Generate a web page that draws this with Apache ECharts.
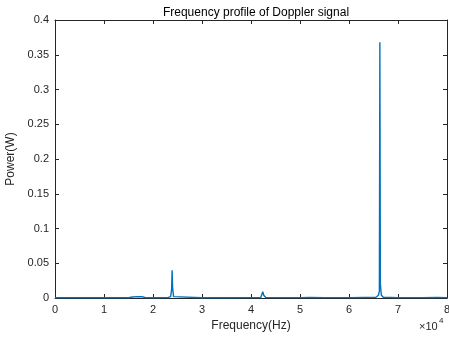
<!DOCTYPE html>
<html><head><meta charset="utf-8">
<script src="https://cdn.jsdelivr.net/npm/echarts@6/dist/echarts.min.js"></script>
<style>html,body{margin:0;padding:0;background:#fff}#c{width:449px;height:338px}</style>
</head><body><div id="c"></div>
<script>
var freqHz = [0,5000,10000,15000,15800,16200,16800,17200,17800,18500,20000,23000,23600,23800,23900,24000,24200,24600,30000,35000,40000,42000,42400,42600,43000,47800,48000,48200,50000,52000,55000,60300,60500,60700,65500,66000,66200,66300,66400,66600,67000,70000,75000,78000,80000];
var powerW = [0.0003,0.0003,0.0003,0.0004,0.0015,0.0008,0.002,0.001,0.0018,0.0006,0.0004,0.0005,0.002,0.012,0.04,0.015,0.002,0.0005,0.0004,0.0004,0.0005,0.0008,0.009,0.004,0.0008,0.0005,0.003,0.0005,0.0006,0.0008,0.0005,0.0005,0.002,0.0005,0.001,0.004,0.01,0.368,0.02,0.004,0.001,0.0005,0.0005,0.0008,0.0005];
var xTicks = [0,1,2,3,4,5,6,7,8];
var yTicks = [0,0.05,0.1,0.15,0.2,0.25,0.3,0.35,0.4];
var titleText = 'Frequency profile of Doppler signal';
var xName = 'Frequency(Hz)';
var yName = 'Power(W)';

var data = freqHz.map(function(f,i){return [f, powerW[i]];});
var font = 'Liberation Sans';
var axColor = '#262626';
var chart = echarts.init(document.getElementById('c'), null, {renderer:'canvas'});
function common(){ return {
  axisLine:{show:true,onZero:false,lineStyle:{color:axColor,width:1}},
  axisTick:{show:true,inside:true,length:4,lineStyle:{color:axColor}},
  splitLine:{show:false}
};}
chart.setOption({
  animation:false,
  backgroundColor:'#fff',
  title:{text:titleText,left:251,top:2,textAlign:'center',textStyle:{fontFamily:font,fontSize:12,fontWeight:'normal',color:'#000'}},
  grid:{left:55,right:2,top:20,bottom:40,containLabel:false,outerBoundsMode:'none'},
  xAxis:[Object.assign({type:'value',min:0,max:80000,interval:10000,position:'bottom',
    name:xName,nameLocation:'middle',nameGap:21,nameTextStyle:{fontFamily:font,fontSize:12,color:axColor},
    axisLabel:{fontFamily:font,fontSize:11,color:axColor,margin:6,formatter:function(v){return String(v/10000);}}},common()),
    Object.assign({type:'value',min:0,max:80000,interval:10000,position:'top',axisLabel:{show:false}},common())],
  yAxis:[Object.assign({type:'value',min:0,max:0.4,interval:0.05,position:'left',
    name:yName,nameLocation:'middle',nameGap:30,nameTextStyle:{fontFamily:font,fontSize:12,color:axColor},
    axisLabel:{fontFamily:font,fontSize:11,color:axColor,margin:6,formatter:function(v){return String(+v.toFixed(2));}}},common()),
    Object.assign({type:'value',min:0,max:0.4,interval:0.05,position:'right',axisLabel:{show:false}},common())],
  graphic:[{type:'text',left:419,top:321,style:{text:'×10',font:'11px Liberation Sans',fill:axColor}},
           {type:'text',left:439,top:317,style:{text:'4',font:'8px Liberation Sans',fill:axColor}}],
  series:[{type:'line',data:data,smooth:false,sampling:null,showSymbol:false,symbol:'none',lineStyle:{color:'#0072BD',width:1.4},itemStyle:{color:'#0072BD'}}]
});
</script></body></html>
